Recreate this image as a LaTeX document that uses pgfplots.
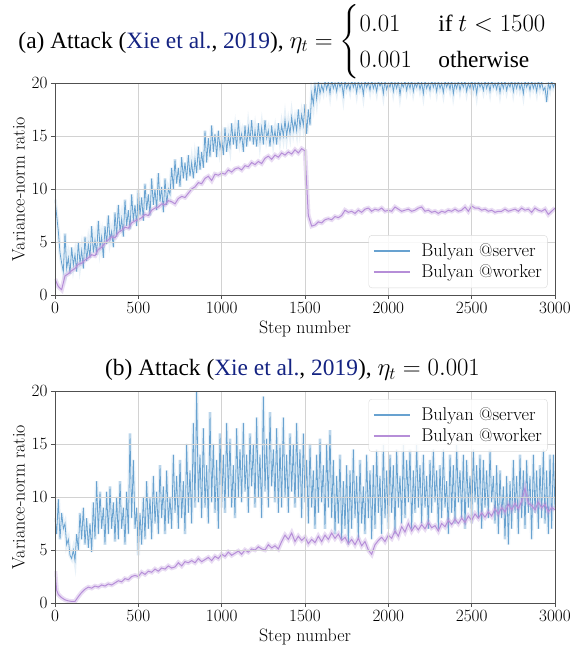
\documentclass[border=0pt]{standalone}
\usepackage{amsmath}
\usepackage{fontspec}
\newfontfamily\timesfont{Liberation Serif}
\usepackage{pgfplots}
\pgfplotsset{compat=1.18}
\definecolor{cserver}{RGB}{104,162,208}
\definecolor{cworker}{RGB}{182,142,216}
\definecolor{cite}{RGB}{20,35,130}
\definecolor{framec}{RGB}{80,80,80}
\newsavebox\casebox
\newcommand\mathbig{\fontsize{26.5}{30}\selectfont}
\pgfplotsset{
  myax/.style={
    scale only axis, width=500bp, height=212bp,
    xmin=0, xmax=3000, ymin=0, ymax=20,
    xtick={0,500,...,3000}, ytick={0,5,...,20},
    /pgf/number format/1000 sep={},
    xtick pos=left, ytick pos=left, tick align=outside,
    major tick length=4bp,
    tick style={framec, line width=0.8bp},
    axis line style={framec, line width=0.9bp},
    axis on top,
    grid=major, grid style={gray!35, line width=0.8bp},
    ticklabel style={font=\fontsize{17}{19}\selectfont},
    label style={font=\fontsize{18}{20}\selectfont},
    xlabel={Step number}, ylabel={Variance-norm ratio},
    xlabel style={yshift=-1bp}, ylabel style={yshift=0bp},
    legend style={font=\fontsize{18.5}{21}\selectfont, draw=gray!30, rounded corners=3bp, fill=white, fill opacity=0.85, text opacity=1, row sep=1.5bp, inner xsep=3bp, inner ysep=6bp, nodes={inner sep=2.5bp}},
    legend cell align=left,
    legend image code/.code={\draw[##1, line width=1.5bp, opacity=1] (2bp,0bp) -- (38bp,0bp); \path[draw=none] (0bp,0bp) -- (47bp,0bp);},
    title style={font=\timesfont\fontsize{23.5}{28}\selectfont, anchor=center},
  },
  srv/.style={cserver, line width=0.8bp},
  srvband/.style={cserver, line width=3.5bp, opacity=0.15, forget plot},
  wrk/.style={cworker, line width=1bp},
  wrkband/.style={cworker, line width=4.5bp, opacity=0.3, forget plot},
}
\pgfplotstableread{
x y
0 9.0
10 7.5
20 6.0
30 4.0
40 3.0
50 2.2
60 5.8
70 2.5
80 3.5
90 2.0
100 4.5
110 2.8
120 3.8
130 2.2
140 5.0
150 3.0
160 4.2
170 2.5
180 5.5
190 3.2
200 4.8
210 3.5
220 6.5
230 4.0
240 5.2
250 3.8
260 7.0
270 4.5
280 5.5
290 3.5
300 6.5
310 4.8
320 7.5
330 5.2
340 6.0
350 4.5
360 7.8
370 5.5
380 8.5
390 6.0
400 7.2
410 5.5
420 9.0
430 6.5
440 8.0
450 6.2
460 9.5
470 7.0
480 8.5
490 6.5
500 10.0
510 7.5
520 9.2
530 7.0
540 10.5
550 8.0
560 9.5
570 7.5
580 11.0
590 8.5
600 10.0
610 8.0
620 11.5
630 8.8
640 10.2
650 7.8
660 11.0
670 8.5
680 10.0
690 9.5
700 12.0
710 10.0
720 12.8
730 10.5
740 12.0
750 10.2
760 13.0
770 11.0
780 12.5
790 10.8
800 13.2
810 11.2
820 12.5
830 11.0
840 12.8
850 11.5
860 14.0
870 11.8
880 13.5
890 12.0
900 15.5
910 12.5
920 14.8
930 13.0
940 16.0
950 13.5
960 15.2
970 13.0
980 15.5
990 13.8
1000 14.8
1010 13.2
1020 15.8
1030 13.5
1040 15.0
1050 14.0
1060 16.2
1070 14.2
1080 15.5
1090 13.8
1100 16.5
1110 14.5
1120 15.2
1130 13.5
1140 16.0
1150 14.0
1160 15.8
1170 14.5
1180 16.5
1190 14.2
1200 15.5
1210 14.0
1220 16.2
1230 14.5
1240 15.8
1250 14.2
1260 16.5
1270 14.8
1280 15.5
1290 14.0
1300 16.0
1310 14.5
1320 15.5
1330 14.2
1340 16.2
1350 14.8
1360 16.0
1370 15.0
1380 16.5
1390 15.0
1400 16.2
1410 15.2
1420 16.8
1430 15.5
1440 16.5
1450 15.5
1460 17.5
1470 15.8
1480 17.0
1490 16.0
1500 18.0
1510 15.2
1520 17.5
1530 16.0
1540 19.0
1550 18.0
1560 19.8
1570 18.5
1580 20.2
1590 19.0
1600 19.8
1610 19.2
1620 20.2
1630 19.4
1640 20.1
1650 19.0
1660 20.3
1670 19.5
1680 20.0
1690 19.2
1700 20.2
1710 19.6
1720 20.1
1730 18.8
1740 20.2
1750 19.5
1760 20.0
1770 19.3
1780 20.3
1790 19.6
1800 20.1
1810 19.1
1820 20.2
1830 19.5
1840 20.0
1850 18.9
1860 20.2
1870 19.6
1880 20.1
1890 19.3
1900 20.3
1910 19.5
1920 20.0
1930 19.2
1940 20.2
1950 19.7
1960 20.1
1970 19.0
1980 20.2
1990 19.4
2000 20.0
2010 19.6
2020 20.3
2030 19.2
2040 20.1
2050 19.5
2060 20.2
2070 18.9
2080 20.0
2090 19.6
2100 20.2
2110 19.3
2120 20.1
2130 19.5
2140 20.3
2150 19.2
2160 20.0
2170 19.6
2180 20.2
2190 19.4
2200 20.1
2210 19.0
2220 20.2
2230 19.5
2240 20.0
2250 19.3
2260 20.3
2270 19.6
2280 20.1
2290 19.2
2300 20.2
2310 19.5
2320 20.0
2330 19.1
2340 20.2
2350 19.6
2360 20.1
2370 19.4
2380 20.3
2390 19.0
2400 20.0
2410 19.5
2420 20.2
2430 19.3
2440 20.1
2450 19.6
2460 20.2
2470 19.2
2480 20.0
2490 19.5
2500 20.3
2510 19.4
2520 20.1
2530 19.0
2540 20.2
2550 19.6
2560 20.0
2570 19.3
2580 20.2
2590 19.5
2600 20.1
2610 19.2
2620 20.3
2630 19.6
2640 20.0
2650 19.4
2660 20.2
2670 19.1
2680 20.1
2690 19.5
2700 20.2
2710 19.3
2720 20.0
2730 19.6
2740 20.3
2750 19.2
2760 20.1
2770 19.5
2780 20.2
2790 19.4
2800 20.0
2810 19.0
2820 20.2
2830 19.6
2840 20.1
2850 19.3
2860 20.2
2870 19.5
2880 20.0
2890 19.2
2900 20.3
2910 19.5
2920 20.1
2930 19.3
2940 19.6
2950 18.2
2960 20.0
2970 19.4
2980 20.2
2990 19.6
3000 20.0
}\serverA
\pgfplotstableread{
x y
0 1.5
20 0.8
40 0.5
60 1.8
80 2.0
100 2.3
120 2.5
140 2.9
160 3.0
180 3.3
200 3.5
220 3.8
240 3.7
260 4.3
280 4.5
300 4.9
320 5.2
340 5.5
360 5.4
380 5.9
400 6.1
420 6.4
440 6.3
460 6.8
480 7.0
500 7.1
520 7.3
540 7.6
560 7.5
580 8.0
600 8.2
620 8.3
640 8.6
660 8.5
680 8.9
700 8.8
720 8.6
740 9.1
760 9.3
780 9.2
800 9.6
820 10.0
840 10.2
860 10.6
880 10.5
900 11.0
920 11.2
940 10.8
960 11.4
980 11.3
1000 11.5
1020 11.4
1040 11.8
1060 11.6
1080 11.9
1100 12.0
1120 11.8
1140 12.2
1160 12.1
1180 12.5
1200 12.3
1220 12.6
1240 12.4
1260 12.9
1280 13.1
1300 12.8
1320 13.2
1340 13.0
1360 13.4
1380 13.2
1400 13.5
1420 13.3
1440 13.7
1460 13.4
1480 13.8
1500 13.6
1510 10.5
1520 7.5
1540 6.5
1560 6.6
1580 6.9
1600 6.8
1620 7.1
1640 7.2
1660 7.1
1680 7.4
1700 7.3
1720 7.5
1740 8.0
1760 7.8
1780 7.9
1800 7.7
1820 8.0
1840 7.8
1860 8.1
1880 8.2
1900 7.9
1920 8.1
1940 8.0
1960 8.2
1980 7.9
2000 8.0
2020 7.9
2040 8.3
2060 8.1
2080 7.9
2100 8.0
2120 8.1
2140 7.9
2160 8.0
2180 8.2
2200 8.3
2220 7.9
2240 8.0
2260 7.8
2280 7.9
2300 7.7
2320 7.9
2340 7.8
2360 8.0
2380 7.9
2400 8.1
2420 7.9
2440 8.0
2460 8.3
2480 7.9
2500 8.4
2520 8.2
2540 8.2
2560 8.0
2580 8.1
2600 7.9
2620 8.0
2640 7.8
2660 7.9
2680 7.9
2700 8.1
2720 7.9
2740 8.0
2760 8.1
2780 7.9
2800 8.2
2820 8.0
2840 8.1
2860 7.8
2880 8.2
2900 8.0
2920 7.9
2940 8.1
2960 7.6
2980 7.9
3000 8.2
}\workerA
\pgfplotstableread{
x y
0 8.0
10 6.5
20 9.8
30 6.0
40 8.5
50 7.0
60 7.5
70 5.5
80 6.0
90 4.5
100 4.2
110 5.0
120 4.0
130 6.5
140 5.0
150 8.5
160 6.0
170 9.0
180 5.5
190 8.0
200 5.2
210 7.5
220 4.8
230 9.5
240 6.0
250 11.5
260 6.5
270 10.5
280 7.0
290 9.0
300 5.5
310 10.5
320 6.5
330 11.0
340 7.0
350 9.5
360 5.8
370 10.0
380 6.0
390 11.5
400 7.0
410 9.0
420 5.5
430 10.5
440 6.5
450 16.0
460 8.0
470 13.5
480 7.0
490 9.0
500 4.5
510 8.5
520 5.5
530 10.0
540 6.0
550 11.5
560 7.0
570 10.0
580 6.0
590 12.0
600 7.5
610 10.5
620 6.5
630 13.0
640 8.0
650 11.0
660 6.5
670 12.5
680 7.5
690 10.0
700 7.0
710 14.0
720 8.5
730 12.0
740 7.0
750 13.5
760 8.0
770 11.5
780 6.5
790 15.0
800 8.5
810 12.5
820 7.5
830 17.0
840 9.0
850 20.0
860 9.5
870 14.0
880 8.0
890 16.5
900 9.0
910 13.0
920 7.5
930 18.0
940 9.5
950 15.0
960 8.5
970 13.5
980 7.0
990 16.0
1000 9.0
1010 14.0
1020 8.5
1030 17.0
1040 10.0
1050 15.5
1060 9.0
1070 13.0
1080 8.0
1090 16.5
1100 10.0
1110 14.5
1120 9.5
1130 17.0
1140 10.5
1150 14.0
1160 8.5
1170 16.0
1180 11.0
1190 15.0
1200 9.0
1210 17.5
1220 10.0
1230 14.0
1240 8.0
1250 19.5
1260 10.5
1270 15.5
1280 9.0
1290 18.0
1300 11.0
1310 14.5
1320 9.5
1330 16.5
1340 8.5
1350 15.0
1360 9.0
1370 17.5
1380 10.0
1390 14.0
1400 8.5
1410 16.0
1420 10.5
1430 15.0
1440 9.0
1450 17.0
1460 10.0
1470 14.5
1480 8.0
1490 16.0
1500 9.5
1510 13.5
1520 7.5
1530 15.0
1540 9.0
1550 12.5
1560 7.0
1570 14.0
1580 8.5
1590 15.5
1600 9.5
1610 13.0
1620 7.0
1630 15.0
1640 9.0
1650 16.3
1660 8.0
1670 13.5
1680 6.5
1690 12.0
1700 7.5
1710 14.0
1720 6.0
1730 11.5
1740 7.0
1750 13.0
1760 5.5
1770 12.5
1780 7.0
1790 14.5
1800 8.0
1810 12.0
1820 6.0
1830 13.5
1840 7.5
1850 11.0
1860 6.5
1870 14.0
1880 8.0
1890 12.5
1900 6.0
1910 13.0
1920 7.0
1930 14.5
1940 8.5
1950 12.0
1960 6.5
1970 15.0
1980 8.0
1990 12.5
2000 7.0
2010 14.0
2020 8.5
2030 13.0
2040 6.5
2050 14.5
2060 9.0
2070 12.0
2080 7.5
2090 15.0
2100 8.0
2110 13.5
2120 9.5
2130 14.5
2140 7.0
2150 12.5
2160 8.5
2170 15.0
2180 9.0
2190 13.0
2200 7.5
2210 14.0
2220 9.0
2230 12.0
2240 7.0
2250 13.5
2260 8.5
2270 14.5
2280 9.5
2290 12.5
2300 7.0
2310 13.0
2320 8.0
2330 14.5
2340 9.0
2350 11.5
2360 6.5
2370 14.0
2380 8.5
2390 13.0
2400 7.5
2410 15.0
2420 9.5
2430 12.5
2440 8.0
2450 14.0
2460 7.0
2470 13.5
2480 9.0
2490 12.0
2500 7.5
2510 14.5
2520 9.5
2530 13.0
2540 8.0
2550 14.0
2560 7.0
2570 13.5
2580 9.0
2590 12.5
2600 8.0
2610 14.5
2620 9.5
2630 12.0
2640 7.5
2650 13.0
2660 6.5
2670 12.5
2680 8.0
2690 11.0
2700 6.0
2710 12.0
2720 5.5
2730 11.5
2740 7.0
2750 13.5
2760 8.5
2770 12.0
2780 6.5
2790 14.0
2800 8.0
2810 12.5
2820 7.0
2830 13.5
2840 8.5
2850 12.0
2860 6.0
2870 14.0
2880 8.5
2890 12.5
2900 7.0
2910 13.0
2920 8.0
2930 14.5
2940 7.5
2950 12.5
2960 6.5
2970 14.0
2980 7.0
2990 14.0
3000 9.0
}\serverB
\pgfplotstableread{
x y
0 3.0
10 1.2
20 0.8
40 0.5
60 0.3
80 0.2
100 0.15
120 0.15
140 0.6
160 1.0
180 1.3
200 1.5
220 1.4
240 1.6
260 1.5
280 1.7
300 1.6
320 1.8
340 1.7
360 1.9
380 2.1
400 2.0
420 2.3
440 2.2
460 2.5
480 2.6
500 2.5
520 2.9
540 2.7
560 3.0
580 2.9
600 3.2
620 3.0
640 3.3
660 3.2
680 3.5
700 3.3
720 3.4
740 3.8
760 3.5
780 3.9
800 3.8
820 4.0
840 3.8
860 4.2
880 3.9
900 4.1
920 4.3
940 4.0
960 4.4
980 4.2
1000 4.6
1020 4.4
1040 4.8
1060 4.5
1080 4.7
1100 4.9
1120 4.6
1140 5.0
1160 4.8
1180 5.1
1200 5.0
1220 5.3
1240 5.1
1260 5.0
1280 5.5
1300 5.2
1320 5.4
1340 5.1
1360 5.8
1380 6.4
1400 6.0
1420 6.6
1440 5.8
1460 6.3
1480 5.9
1500 6.2
1520 5.6
1540 6.0
1560 5.7
1580 6.3
1600 5.8
1620 6.4
1640 6.0
1660 6.6
1680 6.1
1700 6.5
1720 5.9
1740 6.2
1760 5.6
1780 6.0
1800 5.5
1820 6.1
1840 5.4
1860 5.8
1880 5.0
1900 4.6
1920 5.5
1940 5.9
1960 6.2
1980 5.8
2000 6.4
2020 6.1
2040 6.8
2060 6.3
2080 7.2
2100 6.7
2120 7.5
2140 6.8
2160 7.3
2180 6.9
2200 7.4
2220 7.0
2240 7.6
2260 7.1
2280 7.3
2300 6.8
2320 7.5
2340 7.2
2360 7.8
2380 7.4
2400 7.9
2420 7.5
2440 8.0
2460 7.6
2480 8.2
2500 7.8
2520 8.4
2540 8.0
2560 8.5
2580 8.1
2600 8.6
2620 8.2
2640 8.9
2660 8.4
2680 9.0
2700 8.6
2720 9.3
2740 8.8
2760 9.4
2780 8.9
2800 9.6
2820 10.8
2840 9.4
2860 9.2
2880 8.8
2900 9.5
2920 9.0
2940 9.3
2960 8.6
2980 9.0
3000 8.8
}\workerB
\begin{document}
\sbox\casebox{\timesfont\fontsize{23.5}{28}\selectfont\mathbig$\eta_t = \begin{cases} 0.01 & \text{\fontsize{23.5}{28}\selectfont if } t < 1500\\ 0.001 & \text{\fontsize{23.5}{28}\selectfont otherwise}\end{cases}$}%
\begin{tikzpicture}
\path[use as bounding box] (-55bp,-354bp) rectangle (524bp,295bp);
\begin{axis}[myax,
  title={(a) Attack ({\color{cite}Xie et al.}, {\color{cite}2019}), \usebox\casebox},
  title style={at={(0.455,1)}, yshift=35bp},
  legend style={at={(0.985,0.033)}, anchor=south east}]
\addplot[srvband] table {\serverA};
\addplot[srv] table {\serverA};
\addlegendentry{Bulyan @server}
\addplot[wrkband] table {\workerA};
\addplot[wrk] table {\workerA};
\addlegendentry{Bulyan @worker}
\end{axis}
\begin{axis}[myax, at={(0,-308bp)}, anchor=south west,
  title={(b) Attack ({\color{cite}Xie et al.}, {\color{cite}2019}), {\mathbig$\eta_t = 0.001$}},
  title style={at={(0.475,1)}, yshift=15bp},
  legend style={at={(0.985,0.962)}, anchor=north east}]
\addplot[srvband] table {\serverB};
\addplot[srv] table {\serverB};
\addlegendentry{Bulyan @server}
\addplot[wrkband] table {\workerB};
\addplot[wrk] table {\workerB};
\addlegendentry{Bulyan @worker}
\end{axis}
\end{tikzpicture}
\end{document}
